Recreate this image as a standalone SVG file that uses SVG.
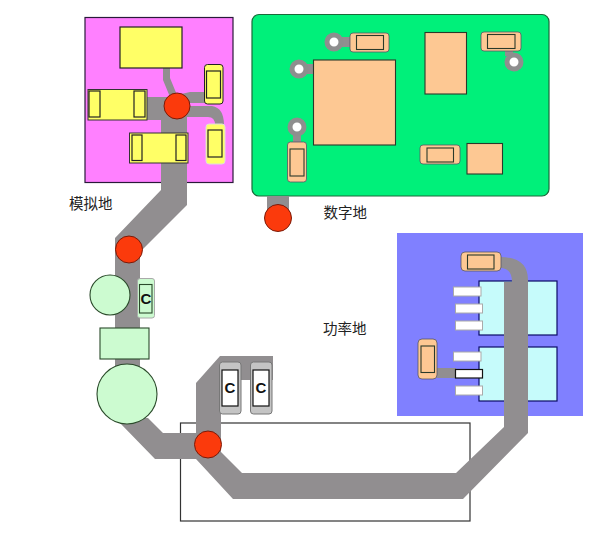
<svg xmlns="http://www.w3.org/2000/svg" width="608" height="538" viewBox="0 0 608 538">
<style>
text{font-family:"Noto Sans CJK SC","Liberation Sans",sans-serif;font-size:14.500px;fill:#222}
.c{font-family:"Liberation Sans",sans-serif;font-size:15px;font-weight:bold;fill:#111;text-anchor:middle}
.tr{fill:#918e90;stroke:none}
.red{fill:#fb3a0c;stroke:#7a1a08;stroke-width:1}
.y{fill:#ffff66;stroke:#222;stroke-width:1.2}
.o{fill:#fdc893;stroke:#2a3a2a;stroke-width:1.1}
.op{fill:#fdc893;stroke:#556;stroke-width:.8}
.v{fill:#fff;stroke:#8e8e8e;stroke-width:5}
.cy{fill:#c6fbfb;stroke:#0a0a66;stroke-width:1.2}
.w{fill:#fff;stroke:#aaa;stroke-width:1}
.g{fill:#ccfbd0;stroke:#2a4a2a;stroke-width:1.1}
.gp{fill:#c4c4c4;stroke:#777;stroke-width:1}
.cb{fill:#fff;stroke:#111;stroke-width:1.2}
</style>
<g id="analog-ground">
<rect x="85" y="17.500" width="148" height="165" fill="#ff80ff" stroke="#2a1a3a" stroke-width="1.200"/>
</g>
<g id="digital-ground">
<rect x="252" y="14.500" width="297" height="181.500" rx="7" fill="#00f07a" stroke="#1a6a3a" stroke-width="1.200"/>
</g>
<g id="power-ground">
<rect x="397" y="233" width="186" height="183" fill="#8080ff"/>
<rect class="cy" x="479" y="281" width="78" height="54"/>
<rect class="cy" x="479" y="347" width="78" height="54"/>
</g>
<rect id="outline-box" x="180.500" y="423" width="289.500" height="98" fill="none" stroke="#333" stroke-width="1.200"/>
<g id="connectors">
<path class="tr" d="M161 97V190L115 238V380H140V252L187 205V117H205V106H187V103H205V92H190L177 95L170 78V68H163V80L170 97H147V120H161Z"/>
<path class="tr" d="M187 106H212Q224 108 224 125H215Q215 117 208 117H187Z"/>
<path class="tr" d="M267 196H289V212H267Z"/>
<path class="tr" d="M120 423L155 459H196L233 499H463L528 433V280Q528 257 500 257V268Q512 268 512 282H504V427L456 473H242L221 452V380H273V356H220L196 383V433H163L148 418H120Z"/>
<path class="tr" d="M437 368H456V378H437Z"/>
<path class="tr" d="M342 37H350V47H342ZM305 64H315V74H305ZM293 132H301V144H293ZM505 48H513V56H505Z"/>
</g>
<g id="big-yellow"><rect class="y" x="120" y="27" width="62" height="41"/></g>
<g id="left-part"><rect x="88" y="89.500" width="59" height="30.500" fill="#ffff66" stroke="#333"/><rect class="y" x="89" y="91" width="11" height="26"/><rect class="y" x="134" y="91" width="11" height="26"/></g>
<g id="bottom-part"><rect x="129.500" y="133" width="58.500" height="30" fill="#ffff66" stroke="#333"/><rect class="y" x="132" y="135" width="10" height="25.500"/><rect class="y" x="176" y="135" width="10" height="25.500"/></g>
<g id="right-top-part"><rect x="204.500" y="64.500" width="18.500" height="39.500" rx="3" fill="#ffff66" stroke="#222"/><rect class="y" x="206.500" y="71" width="14" height="27"/></g>
<g id="right-bottom-part"><rect x="206" y="124" width="19" height="40" rx="3" fill="#ffff66" stroke="#ddd"/><rect class="y" x="208" y="130" width="14" height="27"/></g>
<g id="via-1"><circle class="v" cx="334" cy="42" r="7"/></g>
<g id="via-2"><circle class="v" cx="299" cy="69" r="7"/></g>
<g id="via-3"><circle class="v" cx="297" cy="127" r="7"/></g>
<g id="via-4"><circle class="v" cx="514" cy="62" r="7"/></g>
<g id="chip"><rect class="o" x="313.500" y="60" width="82" height="85"/></g>
<g id="rect-part"><rect class="o" x="425" y="32.500" width="41.500" height="61.500"/></g>
<g id="square-part"><rect class="o" x="467" y="143.500" width="35.500" height="30.500"/></g>
<g id="cap-d1"><rect class="op" x="350" y="33" width="39" height="19" rx="3"/><rect class="o" x="356.500" y="35.500" width="27" height="14"/></g>
<g id="cap-d2"><rect class="op" x="481" y="32" width="40" height="19" rx="3"/><rect class="o" x="487.500" y="34.500" width="27.500" height="14"/></g>
<g id="cap-d3"><rect class="op" x="420" y="145" width="40" height="19" rx="3"/><rect class="o" x="427" y="148" width="26.500" height="14"/></g>
<g id="cap-d4"><rect class="op" x="287.500" y="142" width="19" height="40" rx="3"/><rect class="o" x="290" y="149" width="14" height="27"/></g>
<g id="cap-p1"><rect class="op" x="461" y="252" width="40" height="19" rx="4"/><rect class="o" x="467.500" y="255" width="26.500" height="14"/></g>
<g id="cap-p2"><rect class="op" x="418" y="339" width="19" height="40" rx="4"/><rect class="o" x="421" y="346" width="13.500" height="26.500"/></g>
<g id="pads">
<rect class="w" x="453.500" y="287" width="27.500" height="9"/>
<rect class="w" x="455.500" y="304" width="27" height="9"/>
<rect class="w" x="455.500" y="321" width="27" height="9"/>
<rect class="w" x="453.500" y="352" width="27.500" height="9"/>
<rect x="455.500" y="369.500" width="27" height="8.500" fill="#fff" stroke="#111" stroke-width="1.200"/>
<rect class="w" x="455.500" y="386" width="27" height="9"/>
</g>
<g id="bead-circle"><circle class="g" cx="110" cy="295" r="20"/></g>
<g id="bead-rect"><rect class="g" x="100" y="328" width="49" height="31"/></g>
<g id="bulk-circle"><circle class="g" cx="127" cy="394" r="30"/></g>
<g id="cap-c1"><rect x="137.500" y="278.500" width="17" height="39.500" rx="2.500" fill="#ccfbd0" stroke="#aaa"/><rect class="g" x="139.500" y="284.500" width="12.500" height="28.500"/><text class="c" x="146" y="304">C</text></g>
<g id="cap-c2"><rect class="gp" x="219.500" y="362" width="21.500" height="52" rx="3"/><rect class="cb" x="222" y="370" width="16" height="36"/><text class="c" x="230" y="393">C</text></g>
<g id="cap-c3"><rect class="gp" x="250.500" y="362" width="21.500" height="52" rx="3"/><rect class="cb" x="253" y="370" width="16" height="36"/><text class="c" x="261" y="393">C</text></g>
<g id="ground-points">
<circle class="red" cx="177" cy="106" r="13"/>
<circle class="red" cx="278" cy="218" r="13.500"/>
<circle class="red" cx="129" cy="249.500" r="13.500"/>
<circle class="red" cx="208" cy="444.500" r="13.500"/>
</g>
<text x="69" y="209">模拟地</text>
<text x="323.500" y="218">数字地</text>
<text x="323" y="334">功率地</text>
</svg>
